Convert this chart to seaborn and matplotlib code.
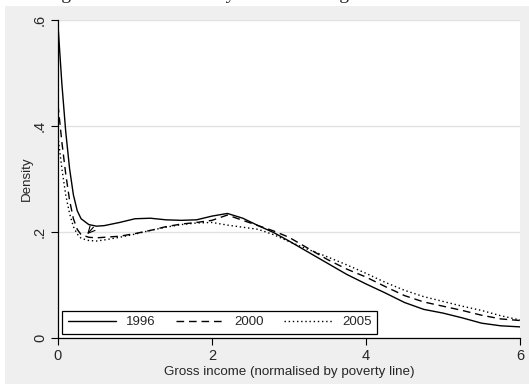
import matplotlib
matplotlib.use("Agg")
import matplotlib.pyplot as plt
from matplotlib.patches import Rectangle
import pandas as pd
import seaborn as sns

# Kernel density of gross income (in multiples of the poverty line), by survey year
income = [0.0, 0.05, 0.1, 0.15, 0.2, 0.25, 0.3, 0.4, 0.5, 0.6, 0.8, 1.0, 1.2, 1.4,
          1.6, 1.8, 2.0, 2.2, 2.4, 2.6, 2.8, 3.0, 3.25, 3.5, 3.75, 4.0, 4.25, 4.5,
          4.75, 5.0, 5.25, 5.5, 5.75, 6.0]
density_1996 = [0.59, 0.48, 0.39, 0.32, 0.27, 0.24, 0.225, 0.214, 0.211, 0.212, 0.218,
                0.225, 0.226, 0.223, 0.222, 0.223, 0.230, 0.235, 0.226, 0.212, 0.199,
                0.183, 0.162, 0.141, 0.120, 0.102, 0.085, 0.067, 0.054, 0.047, 0.038,
                0.028, 0.023, 0.021]
density_2000 = [0.44, 0.37, 0.31, 0.26, 0.225, 0.205, 0.195, 0.190, 0.189, 0.190, 0.192,
                0.197, 0.203, 0.210, 0.215, 0.218, 0.222, 0.232, 0.222, 0.212, 0.202,
                0.190, 0.169, 0.148, 0.130, 0.115, 0.097, 0.080, 0.068, 0.060, 0.052,
                0.043, 0.036, 0.033]
density_2005 = [0.38, 0.32, 0.27, 0.235, 0.21, 0.196, 0.188, 0.184, 0.183, 0.185, 0.190,
                0.196, 0.203, 0.209, 0.214, 0.217, 0.218, 0.213, 0.209, 0.205, 0.195,
                0.182, 0.167, 0.153, 0.138, 0.122, 0.105, 0.090, 0.078, 0.069, 0.060,
                0.052, 0.042, 0.034]
years = ["1996", "2000", "2005"]
x_ticks = [0, 2, 4, 6]
x_tick_labels = ["0", "2", "4", "6"]
y_ticks = [0, 0.2, 0.4, 0.6]
y_tick_labels = ["0", ".2", ".4", ".6"]
title_text = "Figure 2: Kernel density estimates of gross income"
x_label = "Gross income (normalised by poverty line)"
y_label = "Density"

frames = []
for yr, dens in zip(years, [density_1996, density_2000, density_2005]):
    frames.append(pd.DataFrame({"income": income, "density": dens, "year": yr}))
df = pd.concat(frames, ignore_index=True)

sns.set_theme(style="white")
plt.rcParams["font.family"] = ["Liberation Sans", "DejaVu Sans"]

W, H = 529, 385
fig = plt.figure(figsize=(W / 100, H / 100), dpi=100, facecolor="white")

# light grey graph region behind the plot area
fig.patches.append(Rectangle((5 / W, 1 / H), 1 - 5 / W, (384 - 6) / H,
                             transform=fig.transFigure, facecolor="#efefef",
                             edgecolor="none", zorder=-10))

ax = fig.add_axes([58 / W, 1 - 338 / H, (520 - 58) / W, (338 - 20) / H])
ax.set_zorder(5)
ax.set_facecolor("white")

styles = {"1996": "-", "2000": (0, (5.5, 3.5)), "2005": (0, (1, 2))}
for yr in years:
    sub = df[df["year"] == yr]
    sns.lineplot(data=sub, x="income", y="density", ax=ax, color="black",
                 linewidth=1.0, linestyle=styles[yr], label=yr, legend=False)

ax.set_xlim(0, 6)
ax.set_ylim(0, 0.6)
ax.set_xticks(x_ticks)
ax.set_xticklabels(x_tick_labels, fontsize=10.5)
ax.set_yticks(y_ticks)
ax.set_yticklabels(y_tick_labels, fontsize=10.5, rotation=90, va="center")
ax.tick_params(axis="both", direction="out", length=5, width=0.8, color="black",
               pad=3, bottom=True, left=True)
ax.yaxis.grid(True, color="#e2e2e2", linewidth=1.0)
ax.xaxis.grid(False)
ax.set_axisbelow(True)
for s in ["top", "right"]:
    ax.spines[s].set_visible(False)
for s in ["left", "bottom"]:
    ax.spines[s].set_color("black")
    ax.spines[s].set_linewidth(0.9)

ax.set_xlabel(x_label, fontsize=9.6, labelpad=2)
ax.set_ylabel(y_label, fontsize=9.6, labelpad=0)

# small arrow near the trough of the curves
ax.annotate("", xy=(0.38, 0.196), xytext=(0.46, 0.209),
            arrowprops=dict(arrowstyle="->", color="black", lw=0.8,
                            shrinkA=0, shrinkB=0))

leg = ax.legend(loc="lower left", bbox_to_anchor=(0.0087, 0.0126), ncol=3,
                frameon=True, fancybox=False, framealpha=1, edgecolor="black",
                fontsize=9.5, handlelength=3.7, handletextpad=0.75,
                columnspacing=1.5, borderpad=0.42, borderaxespad=0)
leg.get_frame().set_linewidth(0.9)

fig.text(45 / W, 1 + 1 / H, title_text, family=["Liberation Serif", "DejaVu Serif"],
         fontsize=14, ha="left", va="baseline")

fig.savefig("out.png", dpi=100, facecolor="white")
